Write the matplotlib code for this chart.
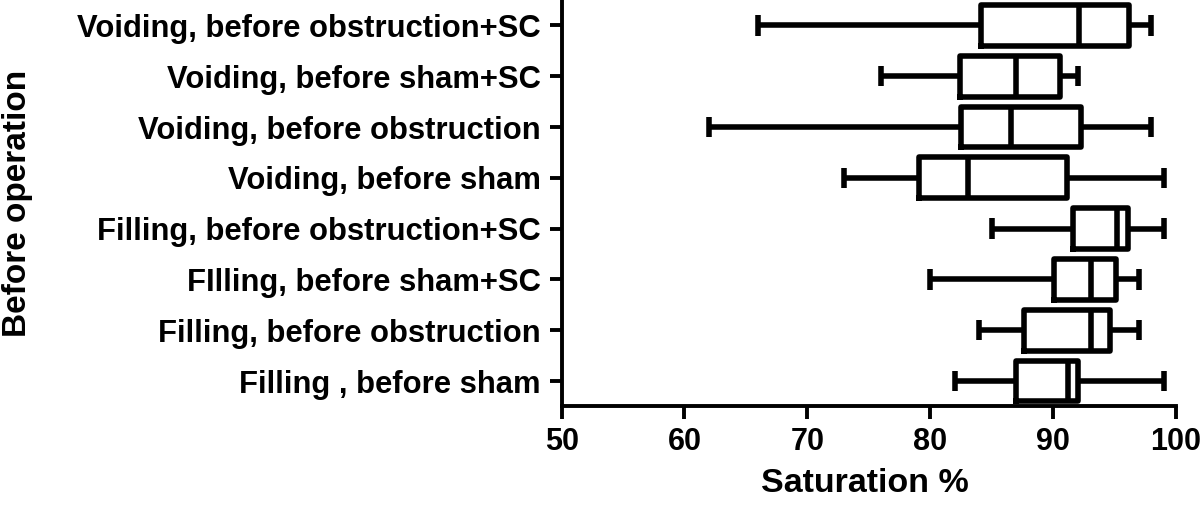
import matplotlib.pyplot as plt

plt.rcParams['font.family'] = ['Liberation Sans', 'DejaVu Sans']
plt.rcParams['font.weight'] = 'bold'

# groups, bottom to top
groups = ['Filling , before sham', 'Filling, before obstruction',
          'FIlling, before sham+SC', 'Filling, before obstruction+SC',
          'Voiding, before sham', 'Voiding, before obstruction',
          'Voiding, before sham+SC', 'Voiding, before obstruction+SC']
whisk_lo = [82, 84, 80, 85, 73, 62, 76, 66]
q1 = [87, 87.6, 90.1, 91.6, 79.1, 82.5, 82.4, 84.1]
median = [91.2, 93.1, 93.1, 95.2, 83.1, 86.6, 87, 92.1]
q3 = [92, 94.6, 95.1, 96.1, 91.1, 92.3, 90.6, 96.2]
whisk_hi = [99, 97, 97, 99, 99, 98, 92, 98]

stats = []
for i in range(len(groups)):
    stats.append({'label': groups[i], 'whislo': whisk_lo[i], 'q1': q1[i],
                  'med': median[i], 'q3': q3[i], 'whishi': whisk_hi[i]})

fig = plt.figure(figsize=(12, 5.08), dpi=100)
ax = fig.add_axes([0.468, 0.2, 0.512, 0.8])

lw = 4.0
ax.bxp(stats, positions=range(1, len(groups) + 1), vert=False, widths=0.8,
       showfliers=False,
       boxprops=dict(color='black', linewidth=lw, solid_joinstyle='round'),
       medianprops=dict(color='black', linewidth=lw, solid_capstyle='butt'),
       whiskerprops=dict(color='black', linewidth=lw, solid_capstyle='butt'),
       capprops=dict(color='black', linewidth=lw, solid_capstyle='butt'))

ax.set_xlim(50, 100)
ax.set_ylim(0.5, 8.5)
ax.set_xticks([50, 60, 70, 80, 90, 100])
ax.set_xlabel('Saturation %', fontsize=24.5, fontweight='bold', va='center')
ax.set_ylabel('Before operation', fontsize=24, fontweight='bold', va='center')
ax.xaxis.set_label_coords(0.494, -0.19)
ax.yaxis.set_label_coords(-0.886, 0.5)
ax.tick_params(axis='both', width=2.8, length=9, pad=6)
ax.tick_params(axis='x', labelsize=22)
ax.tick_params(axis='y', labelsize=22.3)
for s in ['top', 'right']:
    ax.spines[s].set_visible(False)
for s in ['left', 'bottom']:
    ax.spines[s].set_linewidth(2.8)

fig.savefig('out.png', dpi=100)
